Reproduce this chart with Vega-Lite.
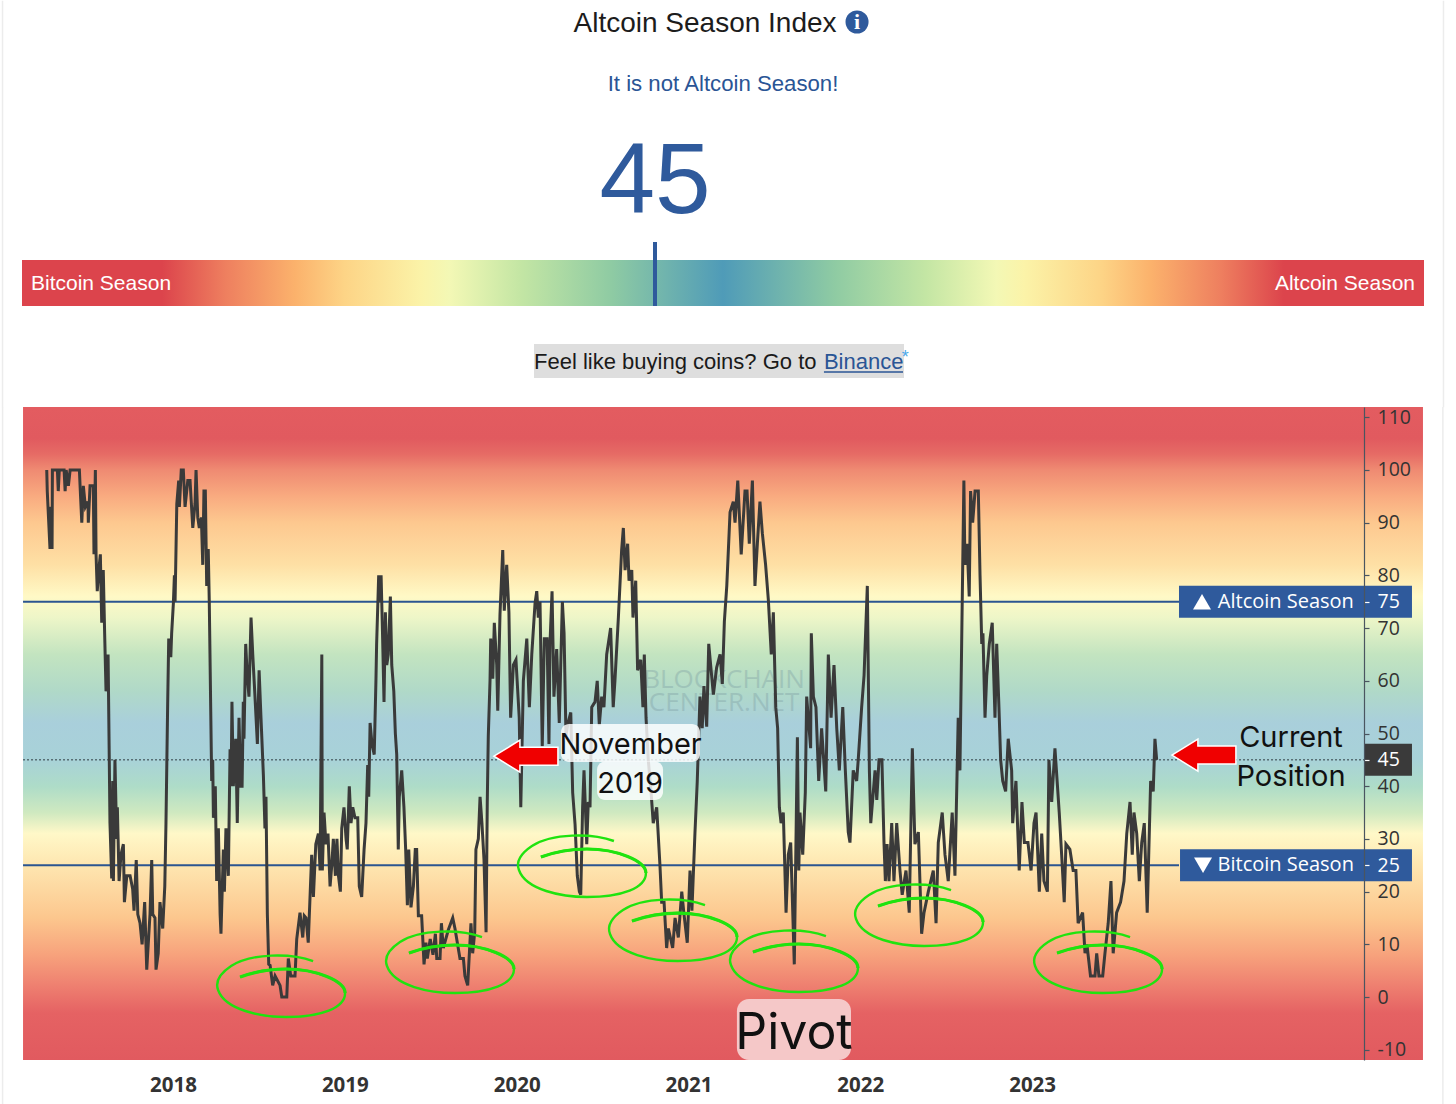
{
  "$schema": "https://vega.github.io/schema/vega-lite/v6.json",
  "padding": {"left": 1, "top": 0, "right": 0, "bottom": 0},
  "background": "white",
  "spacing": 12,
  "bounds": "flush",
  "datasets": {
    "index": [
      {"t":2017.265,"v":100},{"t":2017.268,"v":96},{"t":2017.284,"v":85},{"t":2017.290,"v":93},{"t":2017.296,"v":85},{"t":2017.298,"v":100},{"t":2017.327,"v":100},{"t":2017.332,"v":96},{"t":2017.338,"v":100},{"t":2017.366,"v":100},{"t":2017.372,"v":96},{"t":2017.378,"v":100},{"t":2017.391,"v":97},{"t":2017.401,"v":100},{"t":2017.455,"v":100},{"t":2017.459,"v":97},{"t":2017.469,"v":90},{"t":2017.478,"v":97},{"t":2017.490,"v":93},{"t":2017.505,"v":94},{"t":2017.507,"v":90},{"t":2017.517,"v":97},{"t":2017.536,"v":97},{"t":2017.540,"v":84},{"t":2017.548,"v":100},{"t":2017.552,"v":84},{"t":2017.559,"v":77},{"t":2017.568,"v":81},{"t":2017.577,"v":84},{"t":2017.585,"v":71},{"t":2017.594,"v":81},{"t":2017.602,"v":69},{"t":2017.610,"v":58},{"t":2017.622,"v":65},{"t":2017.629,"v":45},{"t":2017.633,"v":33},{"t":2017.643,"v":22.5},{"t":2017.649,"v":41},{"t":2017.653,"v":22},{"t":2017.662,"v":45},{"t":2017.672,"v":30},{"t":2017.676,"v":36},{"t":2017.686,"v":22},{"t":2017.697,"v":27},{"t":2017.711,"v":29},{"t":2017.717,"v":18},{"t":2017.731,"v":23},{"t":2017.750,"v":23},{"t":2017.765,"v":20.5},{"t":2017.773,"v":16.4},{"t":2017.786,"v":26},{"t":2017.795,"v":15.7},{"t":2017.808,"v":14},{"t":2017.820,"v":10},{"t":2017.835,"v":18},{"t":2017.847,"v":5.2},{"t":2017.866,"v":15.7},{"t":2017.876,"v":26},{"t":2017.882,"v":15.7},{"t":2017.895,"v":15},{"t":2017.901,"v":5.2},{"t":2017.914,"v":8.3},{"t":2017.924,"v":18},{"t":2017.940,"v":13},{"t":2017.952,"v":21},{"t":2017.959,"v":33},{"t":2017.969,"v":56},{"t":2017.975,"v":68},{"t":2017.987,"v":64.5},{"t":2017.992,"v":69},
      {"t":2018.002,"v":74.7},{"t":2018.008,"v":80},{"t":2018.012,"v":75},{"t":2018.022,"v":93.6},{"t":2018.033,"v":98},{"t":2018.037,"v":93},{"t":2018.048,"v":100},{"t":2018.060,"v":100},{"t":2018.070,"v":93},{"t":2018.086,"v":98},{"t":2018.099,"v":98},{"t":2018.115,"v":89},{"t":2018.128,"v":93.6},{"t":2018.134,"v":100},{"t":2018.144,"v":91},{"t":2018.153,"v":89},{"t":2018.165,"v":91},{"t":2018.173,"v":82},{"t":2018.180,"v":96},{"t":2018.188,"v":96},{"t":2018.196,"v":78},{"t":2018.205,"v":85},{"t":2018.211,"v":75},{"t":2018.225,"v":41},{"t":2018.231,"v":45},{"t":2018.235,"v":34},{"t":2018.246,"v":40},{"t":2018.254,"v":22},{"t":2018.264,"v":32},{"t":2018.274,"v":15.7},{"t":2018.279,"v":12},{"t":2018.293,"v":28},{"t":2018.299,"v":20},{"t":2018.308,"v":32},{"t":2018.322,"v":23},{"t":2018.332,"v":47},{"t":2018.338,"v":40},{"t":2018.343,"v":56},{"t":2018.351,"v":40},{"t":2018.365,"v":49},{"t":2018.374,"v":33},{"t":2018.384,"v":53},{"t":2018.394,"v":40},{"t":2018.402,"v":40},{"t":2018.409,"v":56},{"t":2018.413,"v":49},{"t":2018.423,"v":67},{"t":2018.432,"v":61},{"t":2018.442,"v":57},{"t":2018.454,"v":72},{"t":2018.464,"v":65},{"t":2018.477,"v":57},{"t":2018.491,"v":48},{"t":2018.501,"v":62},{"t":2018.512,"v":53},{"t":2018.526,"v":42},{"t":2018.535,"v":32},{"t":2018.541,"v":38},{"t":2018.549,"v":15.7},{"t":2018.557,"v":6.2},{"t":2018.565,"v":6},{"t":2018.580,"v":2.2},{"t":2018.594,"v":4},{"t":2018.623,"v":2.2},{"t":2018.633,"v":0},{"t":2018.662,"v":0},{"t":2018.671,"v":7.3},{"t":2018.685,"v":4},{"t":2018.710,"v":4},{"t":2018.720,"v":11},{"t":2018.739,"v":16},{"t":2018.755,"v":11.3},{"t":2018.764,"v":15.4},{"t":2018.774,"v":15},{"t":2018.787,"v":10.3},{"t":2018.807,"v":27},{"t":2018.817,"v":19},{"t":2018.831,"v":29},{"t":2018.846,"v":31},{"t":2018.856,"v":24},{"t":2018.866,"v":65},{"t":2018.869,"v":24},{"t":2018.879,"v":35},{"t":2018.890,"v":29},{"t":2018.902,"v":31},{"t":2018.914,"v":21},{"t":2018.924,"v":25},{"t":2018.933,"v":30},{"t":2018.945,"v":23},{"t":2018.954,"v":30},{"t":2018.963,"v":23},{"t":2018.974,"v":20},{"t":2018.982,"v":32},{"t":2018.995,"v":36},
      {"t":2019.007,"v":30},{"t":2019.014,"v":28},{"t":2019.026,"v":40},{"t":2019.036,"v":33},{"t":2019.046,"v":36},{"t":2019.059,"v":34},{"t":2019.075,"v":34},{"t":2019.084,"v":21},{"t":2019.098,"v":19},{"t":2019.112,"v":28},{"t":2019.123,"v":33},{"t":2019.133,"v":44},{"t":2019.139,"v":38},{"t":2019.147,"v":52},{"t":2019.158,"v":48},{"t":2019.171,"v":46},{"t":2019.181,"v":60},{"t":2019.185,"v":67},{"t":2019.197,"v":80},{"t":2019.206,"v":75},{"t":2019.211,"v":80},{"t":2019.220,"v":68},{"t":2019.228,"v":56},{"t":2019.236,"v":73},{"t":2019.244,"v":63},{"t":2019.253,"v":65},{"t":2019.265,"v":76},{"t":2019.273,"v":63},{"t":2019.285,"v":58},{"t":2019.294,"v":50},{"t":2019.302,"v":46},{"t":2019.311,"v":28},{"t":2019.317,"v":38},{"t":2019.331,"v":43},{"t":2019.344,"v":36},{"t":2019.354,"v":28},{"t":2019.364,"v":17.4},{"t":2019.372,"v":28},{"t":2019.385,"v":17},{"t":2019.399,"v":21},{"t":2019.410,"v":28},{"t":2019.418,"v":28},{"t":2019.428,"v":15.4},{"t":2019.447,"v":15.4},{"t":2019.461,"v":6.2},{"t":2019.472,"v":10.3},{"t":2019.480,"v":7.3},{"t":2019.497,"v":11},{"t":2019.513,"v":8},{"t":2019.527,"v":12},{"t":2019.535,"v":7.3},{"t":2019.554,"v":7.3},{"t":2019.562,"v":14},{"t":2019.573,"v":9.3},{"t":2019.602,"v":12.7},{"t":2019.628,"v":15},{"t":2019.641,"v":13},{"t":2019.670,"v":7.3},{"t":2019.690,"v":7.3},{"t":2019.699,"v":4},{"t":2019.715,"v":2.2},{"t":2019.734,"v":14},{"t":2019.744,"v":8.3},{"t":2019.756,"v":12.3},{"t":2019.763,"v":28},{"t":2019.777,"v":30},{"t":2019.787,"v":38},{"t":2019.798,"v":33},{"t":2019.810,"v":26},{"t":2019.822,"v":12.3},{"t":2019.829,"v":37},{"t":2019.835,"v":49.6},{"t":2019.845,"v":60},{"t":2019.849,"v":68},{"t":2019.861,"v":60.4},{"t":2019.870,"v":71},{"t":2019.884,"v":63},{"t":2019.890,"v":54.3},{"t":2019.903,"v":72.6},{"t":2019.919,"v":84.8},{"t":2019.928,"v":73.3},{"t":2019.942,"v":82},{"t":2019.955,"v":73},{"t":2019.965,"v":53},{"t":2019.981,"v":63},{"t":2019.996,"v":64},
      {"t":2020.015,"v":53},{"t":2020.024,"v":36},{"t":2020.039,"v":60},{"t":2020.059,"v":68},{"t":2020.074,"v":55},{"t":2020.088,"v":65},{"t":2020.107,"v":74.7},{"t":2020.117,"v":77},{"t":2020.126,"v":72},{"t":2020.136,"v":75},{"t":2020.149,"v":47.6},{"t":2020.161,"v":68},{"t":2020.177,"v":68},{"t":2020.188,"v":48},{"t":2020.194,"v":67},{"t":2020.206,"v":77},{"t":2020.217,"v":57},{"t":2020.233,"v":66},{"t":2020.248,"v":52},{"t":2020.266,"v":75},{"t":2020.276,"v":69},{"t":2020.287,"v":49.6},{"t":2020.299,"v":52},{"t":2020.315,"v":54},{"t":2020.326,"v":38.8},{"t":2020.340,"v":32.7},{"t":2020.353,"v":23},{"t":2020.365,"v":20},{"t":2020.373,"v":19.4},{"t":2020.384,"v":36},{"t":2020.392,"v":43},{"t":2020.408,"v":29},{"t":2020.417,"v":37},{"t":2020.427,"v":36},{"t":2020.437,"v":55},{"t":2020.456,"v":56},{"t":2020.469,"v":60},{"t":2020.481,"v":51.6},{"t":2020.495,"v":57},{"t":2020.508,"v":55},{"t":2020.524,"v":65},{"t":2020.547,"v":70},{"t":2020.562,"v":55},{"t":2020.572,"v":60},{"t":2020.592,"v":72},{"t":2020.611,"v":84.8},{"t":2020.621,"v":89},{"t":2020.631,"v":81},{"t":2020.646,"v":86},{"t":2020.654,"v":79},{"t":2020.670,"v":81},{"t":2020.677,"v":72},{"t":2020.693,"v":79},{"t":2020.704,"v":62},{"t":2020.722,"v":64},{"t":2020.735,"v":55},{"t":2020.743,"v":65},{"t":2020.753,"v":53},{"t":2020.766,"v":45},{"t":2020.782,"v":39},{"t":2020.795,"v":33},{"t":2020.815,"v":36},{"t":2020.834,"v":25},{"t":2020.844,"v":18},{"t":2020.858,"v":18},{"t":2020.873,"v":9.3},{"t":2020.883,"v":13},{"t":2020.908,"v":9.3},{"t":2020.922,"v":15},{"t":2020.941,"v":11.3},{"t":2020.961,"v":20},{"t":2020.974,"v":15.7},{"t":2020.993,"v":10.3},
      {"t":2021.009,"v":24},{"t":2021.020,"v":16.4},{"t":2021.038,"v":31.3},{"t":2021.051,"v":40.8},{"t":2021.067,"v":57},{"t":2021.080,"v":51},{"t":2021.090,"v":59},{"t":2021.106,"v":51.3},{"t":2021.118,"v":67},{"t":2021.129,"v":63},{"t":2021.145,"v":57.4},{"t":2021.164,"v":62.5},{"t":2021.184,"v":65},{"t":2021.197,"v":59.4},{"t":2021.209,"v":71.3},{"t":2021.223,"v":78},{"t":2021.242,"v":92},{"t":2021.261,"v":94},{"t":2021.271,"v":90},{"t":2021.287,"v":98},{"t":2021.307,"v":84},{"t":2021.329,"v":96},{"t":2021.341,"v":96},{"t":2021.354,"v":86},{"t":2021.372,"v":98},{"t":2021.387,"v":78},{"t":2021.401,"v":86},{"t":2021.416,"v":94},{"t":2021.430,"v":88},{"t":2021.449,"v":82},{"t":2021.465,"v":75.3},{"t":2021.482,"v":65},{"t":2021.494,"v":73},{"t":2021.508,"v":55},{"t":2021.519,"v":51},{"t":2021.529,"v":36},{"t":2021.539,"v":33},{"t":2021.552,"v":35},{"t":2021.568,"v":16},{"t":2021.581,"v":27},{"t":2021.595,"v":29.3},{"t":2021.616,"v":6.2},{"t":2021.634,"v":49.3},{"t":2021.642,"v":24},{"t":2021.649,"v":35},{"t":2021.665,"v":27},{"t":2021.680,"v":38.8},{"t":2021.688,"v":57},{"t":2021.711,"v":47.2},{"t":2021.715,"v":69},{"t":2021.727,"v":57},{"t":2021.742,"v":55},{"t":2021.758,"v":41},{"t":2021.775,"v":51},{"t":2021.799,"v":39},{"t":2021.814,"v":65},{"t":2021.830,"v":53},{"t":2021.847,"v":63},{"t":2021.863,"v":51},{"t":2021.878,"v":43},{"t":2021.898,"v":55},{"t":2021.913,"v":43},{"t":2021.930,"v":31.3},{"t":2021.940,"v":29.3},{"t":2021.959,"v":43},{"t":2021.979,"v":41},{"t":2021.988,"v":45},
      {"t":2022.008,"v":55},{"t":2022.022,"v":61},{"t":2022.041,"v":78},{"t":2022.053,"v":43},{"t":2022.061,"v":33},{"t":2022.086,"v":43},{"t":2022.096,"v":37.4},{"t":2022.109,"v":45},{"t":2022.126,"v":45},{"t":2022.138,"v":29.3},{"t":2022.146,"v":22},{"t":2022.156,"v":29},{"t":2022.167,"v":22},{"t":2022.183,"v":33},{"t":2022.196,"v":22},{"t":2022.212,"v":33},{"t":2022.231,"v":24},{"t":2022.244,"v":19.4},{"t":2022.266,"v":24},{"t":2022.285,"v":16},{"t":2022.303,"v":47.2},{"t":2022.318,"v":29},{"t":2022.338,"v":31.3},{"t":2022.357,"v":12},{"t":2022.371,"v":16},{"t":2022.396,"v":20},{"t":2022.425,"v":24},{"t":2022.441,"v":14},{"t":2022.454,"v":29.3},{"t":2022.477,"v":35},{"t":2022.493,"v":27},{"t":2022.512,"v":22},{"t":2022.535,"v":35},{"t":2022.551,"v":23},{"t":2022.570,"v":53},{"t":2022.580,"v":43},{"t":2022.590,"v":67},{"t":2022.603,"v":98},{"t":2022.609,"v":82},{"t":2022.622,"v":86},{"t":2022.634,"v":76},{"t":2022.642,"v":96},{"t":2022.654,"v":90},{"t":2022.668,"v":96},{"t":2022.687,"v":96},{"t":2022.697,"v":80},{"t":2022.707,"v":67},{"t":2022.714,"v":69},{"t":2022.726,"v":53},{"t":2022.736,"v":61},{"t":2022.751,"v":67},{"t":2022.768,"v":71},{"t":2022.784,"v":53},{"t":2022.794,"v":67},{"t":2022.807,"v":55},{"t":2022.817,"v":45},{"t":2022.829,"v":41},{"t":2022.846,"v":39},{"t":2022.861,"v":49},{"t":2022.881,"v":43},{"t":2022.887,"v":33},{"t":2022.906,"v":41},{"t":2022.925,"v":24},{"t":2022.941,"v":37},{"t":2022.955,"v":29.3},{"t":2022.976,"v":29.3},{"t":2022.994,"v":24},
      {"t":2023.011,"v":33},{"t":2023.023,"v":35},{"t":2023.042,"v":20},{"t":2023.056,"v":31},{"t":2023.069,"v":22},{"t":2023.089,"v":20},{"t":2023.098,"v":45},{"t":2023.114,"v":37},{"t":2023.133,"v":47.2},{"t":2023.158,"v":35},{"t":2023.172,"v":27},{"t":2023.187,"v":18},{"t":2023.197,"v":29},{"t":2023.220,"v":28},{"t":2023.239,"v":24},{"t":2023.255,"v":24},{"t":2023.268,"v":14},{"t":2023.294,"v":16},{"t":2023.308,"v":8.3},{"t":2023.319,"v":10},{"t":2023.340,"v":4},{"t":2023.366,"v":4},{"t":2023.376,"v":8.3},{"t":2023.389,"v":4},{"t":2023.411,"v":4},{"t":2023.424,"v":8.3},{"t":2023.443,"v":14},{"t":2023.459,"v":22},{"t":2023.472,"v":8.3},{"t":2023.492,"v":16},{"t":2023.515,"v":18},{"t":2023.535,"v":22},{"t":2023.551,"v":31},{"t":2023.570,"v":37},{"t":2023.583,"v":27},{"t":2023.593,"v":35},{"t":2023.609,"v":31},{"t":2023.624,"v":22},{"t":2023.638,"v":29.3},{"t":2023.653,"v":33},{"t":2023.670,"v":16},{"t":2023.682,"v":31},{"t":2023.690,"v":41},{"t":2023.705,"v":39},{"t":2023.715,"v":49},{"t":2023.725,"v":45}
    ],
    "pivots": [
      {"t":2018.629,"v":2.09},{"t":2019.612,"v":6.64},{"t":2020.380,"v":24.86},{"t":2020.910,"v":12.71},{"t":2021.614,"v":6.83},{"t":2022.342,"v":15.56},{"t":2023.384,"v":6.64}
    ],
    "arrows": [
      {"t":2020.054,"v":45.7},{"t":2024.000,"v":45.9}
    ]
  },
  "vconcat": [
    {
      "width": 1402,
      "height": 395,
      "data": {"values": [{}]},
      "encoding": {
        "x": {"type": "quantitative", "scale": {"domain": [0, 100], "nice": false, "zero": false}, "axis": null},
        "y": {"type": "quantitative", "scale": {"domain": [100, 0], "nice": false, "zero": false}, "axis": null}
      },
      "view": {"stroke": null},
      "layer": [
        {
          "mark": {"type": "rule", "stroke": "#ececec", "strokeWidth": 1.5},
          "encoding": {"x": {"datum": -1.39}, "y": {"datum": 0.2}, "y2": {"datum": 103.1}}
        },
        {
          "mark": {"type": "rule", "stroke": "#ececec", "strokeWidth": 1.5},
          "encoding": {"x": {"datum": 101.39}, "y": {"datum": 0.2}, "y2": {"datum": 103.1}}
        },
        {
          "mark": {"type": "rect", "fill": {"gradient": "linear", "x1": 0, "y1": 0, "x2": 1, "y2": 0, "stops": [
            {"offset": 0, "color": "#dc444c"}, {"offset": 0.1, "color": "#dc444c"}, {"offset": 0.145, "color": "#ee7f5f"}, {"offset": 0.195, "color": "#fbb26c"}, {"offset": 0.23, "color": "#fdd486"}, {"offset": 0.285, "color": "#fbf3a8"}, {"offset": 0.305, "color": "#f3f8b5"}, {"offset": 0.355, "color": "#c4e6a4"}, {"offset": 0.42, "color": "#8fcba3"}, {"offset": 0.5, "color": "#4f9bb8"}, {"offset": 0.58, "color": "#8fcba3"}, {"offset": 0.645, "color": "#c4e6a4"}, {"offset": 0.695, "color": "#f3f8b5"}, {"offset": 0.715, "color": "#fbf3a8"}, {"offset": 0.77, "color": "#fdd486"}, {"offset": 0.805, "color": "#fbb26c"}, {"offset": 0.855, "color": "#ee7f5f"}, {"offset": 0.9, "color": "#dc444c"}, {"offset": 1, "color": "#dc444c"}
          ]}},
          "encoding": {"x": {"datum": 0}, "x2": {"datum": 100}, "y": {"datum": 65.8}, "y2": {"datum": 77.47}}
        },
        {
          "mark": {"type": "rect", "fill": "#dedede"},
          "encoding": {"x": {"datum": 36.52}, "x2": {"datum": 62.91}, "y": {"datum": 87.1}, "y2": {"datum": 95.7}}
        },
        {
          "mark": {"type": "rule", "stroke": "#2f5a9c", "strokeWidth": 4},
          "encoding": {"x": {"datum": 45.15}, "y": {"datum": 61.27}, "y2": {"datum": 77.47}}
        },
        {
          "mark": {"type": "rule", "stroke": "#2a5595", "strokeWidth": 1.5},
          "encoding": {"x": {"datum": 57.2}, "x2": {"datum": 62.84}, "y": {"datum": 94.2}}
        },
        {
          "mark": {"type": "point", "shape": "circle", "filled": true, "fill": "#2f5a9c", "size": 531, "opacity": 1},
          "encoding": {"x": {"datum": 59.56}, "y": {"datum": 5.57}}
        },
        {
          "mark": {"type": "text", "text": "i", "font": "Liberation Serif", "fontSize": 22, "fontWeight": "bold", "color": "white", "baseline": "middle", "align": "center"},
          "encoding": {"x": {"datum": 59.56}, "y": {"datum": 5.57}}
        },
        {
          "mark": {"type": "text", "text": "Altcoin Season Index", "font": "Liberation Sans", "fontSize": 28, "color": "#1c1c1c", "baseline": "middle", "align": "center"},
          "encoding": {"x": {"datum": 48.72}, "y": {"datum": 6.2}}
        },
        {
          "mark": {"type": "text", "text": "It is not Altcoin Season!", "font": "Liberation Sans", "fontSize": 22.2, "color": "#2a5595", "baseline": "middle", "align": "center"},
          "encoding": {"x": {"datum": 50}, "y": {"datum": 21.27}}
        },
        {
          "mark": {"type": "text", "text": "45", "font": "Liberation Sans", "fontSize": 100, "color": "#2f5a9c", "baseline": "middle", "align": "center"},
          "encoding": {"x": {"datum": 45.15}, "y": {"datum": 46.3}}
        },
        {
          "mark": {"type": "text", "text": "Bitcoin Season", "font": "Liberation Sans", "fontSize": 21, "color": "white", "baseline": "middle", "align": "left"},
          "encoding": {"x": {"datum": 0.64}, "y": {"datum": 71.8}}
        },
        {
          "mark": {"type": "text", "text": "Altcoin Season", "font": "Liberation Sans", "fontSize": 21, "color": "white", "baseline": "middle", "align": "right"},
          "encoding": {"x": {"datum": 99.36}, "y": {"datum": 71.8}}
        },
        {
          "mark": {"type": "text", "text": "Feel like buying coins? Go to ", "font": "Liberation Sans", "fontSize": 22, "color": "#1a1a1a", "baseline": "middle", "align": "left"},
          "encoding": {"x": {"datum": 36.52}, "y": {"datum": 91.65}}
        },
        {
          "mark": {"type": "text", "text": "Binance", "font": "Liberation Sans", "fontSize": 22, "color": "#2a5595", "baseline": "middle", "align": "left"},
          "encoding": {"x": {"datum": 57.2}, "y": {"datum": 91.65}}
        },
        {
          "mark": {"type": "text", "text": "*", "font": "Liberation Sans", "fontSize": 18, "color": "#4aa8e8", "baseline": "middle", "align": "center"},
          "encoding": {"x": {"datum": 63.0}, "y": {"datum": 90.6}}
        }
      ]
    },
    {
      "width": 1402,
      "height": 653,
      "view": {"stroke": null},
      "encoding": {
        "x": {
          "field": "t",
          "type": "quantitative",
          "scale": {"domain": [2017.121, 2025.281], "nice": false, "zero": false},
          "axis": {"title": null, "values": [2018, 2019, 2020, 2021, 2022, 2023], "format": "d", "grid": false, "ticks": false, "domain": false, "labelFont": "Open Sans", "labelFontSize": 20.5, "labelFontWeight": 700, "labelColor": "#333333", "labelPadding": 15}
        },
        "y": {
          "field": "v",
          "type": "quantitative",
          "scale": {"domain": [-11.95, 111.95], "nice": false, "zero": false},
          "axis": {
            "title": null, "orient": "right", "offset": -60, "zindex": 1, "grid": false,
            "values": [-10, 0, 10, 20, 25, 30, 40, 45, 50, 60, 70, 75, 80, 90, 100, 110],
            "labelExpr": "'' + datum.value",
            "domainColor": "#4a5560", "domainWidth": 1.2, "tickSize": 5, "tickWidth": 1.2,
            "tickColor": {"condition": {"test": "datum.value==25||datum.value==45||datum.value==75", "value": "white"}, "value": "#4a5560"},
            "labelColor": {"condition": {"test": "datum.value==25||datum.value==45||datum.value==75", "value": "white"}, "value": "#333333"},
            "labelFont": "Open Sans", "labelFontSize": 19.5, "labelPadding": 8, "labelOverlap": false, "labelBound": false
          }
        }
      },
      "layer": [
        {
          "data": {"values": [{"t": 2017.008, "v": 111.95, "v2": -20.3}, {"t": 2025.391, "v": 111.95, "v2": -20.3}]},
          "mark": {"type": "rule", "stroke": "#ececec", "strokeWidth": 1.5},
          "encoding": {"y2": {"field": "v2"}}
        },
        {
          "data": {"values": [{"t": 2017.127, "t2": 2025.275, "v": 111.95, "v2": -11.95}]},
          "mark": {"type": "rect", "fill": {"gradient": "linear", "x1": 0, "y1": 0, "x2": 0, "y2": 1, "stops": [
            {"offset": 0, "color": "#e35c60"}, {"offset": 0.048, "color": "#e15a5f"}, {"offset": 0.072, "color": "#e66b65"}, {"offset": 0.096, "color": "#ef8a72"}, {"offset": 0.137, "color": "#f9ab80"}, {"offset": 0.177, "color": "#fdc88f"}, {"offset": 0.242, "color": "#fee0a5"}, {"offset": 0.29, "color": "#fff9c6"}, {"offset": 0.322, "color": "#eef6c8"}, {"offset": 0.379, "color": "#c3e4c0"}, {"offset": 0.435, "color": "#b0d9c8"}, {"offset": 0.484, "color": "#a9cfdb"}, {"offset": 0.54, "color": "#a8d2d8"}, {"offset": 0.581, "color": "#aedcc8"}, {"offset": 0.621, "color": "#cfe9c0"}, {"offset": 0.653, "color": "#fff8c8"}, {"offset": 0.702, "color": "#fee6b0"}, {"offset": 0.782, "color": "#fcc78e"}, {"offset": 0.839, "color": "#f7a27c"}, {"offset": 0.887, "color": "#ee7f70"}, {"offset": 0.928, "color": "#e56263"}, {"offset": 1, "color": "#e15a5f"}
          ]}},
          "encoding": {"x2": {"field": "t2"}, "y2": {"field": "v2"}}
        },
        {
          "data": {"values": [{"t": 2021.207, "v": 60.2, "label": "BLOCKCHAIN"}, {"t": 2021.207, "v": 55.8, "label": "CENTER.NET"}]},
          "mark": {"type": "text", "font": "Open Sans", "fontSize": 26, "color": "#7a9aa0", "opacity": 0.35, "baseline": "middle", "align": "center"},
          "encoding": {"text": {"field": "label"}}
        },
        {
          "data": {"values": [{"t": 2017.127, "t2": 2023.855, "v": 75}, {"t": 2017.127, "t2": 2023.855, "v": 25}]},
          "mark": {"type": "rule", "stroke": "#2b5590", "strokeWidth": 1.8},
          "encoding": {"x2": {"field": "t2"}}
        },
        {
          "data": {"values": [{"t": 2017.127, "t2": 2024.932, "v": 45}]},
          "mark": {"type": "rule", "stroke": "#2f3a40", "strokeWidth": 1, "strokeDash": [2, 2]},
          "encoding": {"x2": {"field": "t2"}}
        },
        {
          "data": {"name": "index"},
          "mark": {"type": "line", "stroke": "#3a3a3a", "strokeWidth": 3, "interpolate": "linear", "clip": true},
          "encoding": {"order": {"field": "t", "type": "quantitative"}}
        },
        {
          "data": {"name": "pivots"},
          "mark": {"type": "point", "shape": "M32,-25C10,-33,-30,-33,-50,-20C-62,-12,-66,-4,-63,4C-56,24,-20,31,5,31C40,31,64,22,64,7C64,-5,35,-17,5,-17C-15,-17,-30,-13,-41,-9", "size": 4, "filled": false, "stroke": "#1fe30f", "strokeWidth": 2.4, "opacity": 1}
        },
        {
          "data": {"name": "pivots"},
          "mark": {"type": "point", "shape": "M64,7C64,-5,35,-17,5,-17C-15,-17,-30,-13,-41,-9", "size": 4, "filled": false, "stroke": "#1fe30f", "strokeWidth": 3.2, "opacity": 1}
        },
        {
          "data": {"values": [{"t": 2023.855, "t2": 2025.211, "v": 78.04, "v2": 71.96}, {"t": 2023.861, "t2": 2025.211, "v": 28.04, "v2": 21.96}]},
          "mark": {"type": "rect", "fill": "#2f5a9c"},
          "encoding": {"x2": {"field": "t2"}, "y2": {"field": "v2"}}
        },
        {
          "data": {"values": [{"t": 2024.932, "t2": 2025.211, "v": 48.04, "v2": 41.96}]},
          "mark": {"type": "rect", "fill": "#3a3a3a"},
          "encoding": {"x2": {"field": "t2"}, "y2": {"field": "v2"}}
        },
        {
          "data": {"values": [{"t": 2024.873, "v": 75, "label": "Altcoin Season"}, {"t": 2024.873, "v": 25, "label": "Bitcoin Season"}]},
          "mark": {"type": "text", "font": "Open Sans", "fontSize": 20, "color": "white", "baseline": "middle", "align": "right"},
          "encoding": {"text": {"field": "label"}}
        },
        {
          "data": {"values": [{"t": 2023.989, "v": 75}]},
          "mark": {"type": "point", "shape": "triangle-up", "size": 324, "filled": true, "fill": "white", "opacity": 1}
        },
        {
          "data": {"values": [{"t": 2023.995, "v": 25}]},
          "mark": {"type": "point", "shape": "triangle-down", "size": 324, "filled": true, "fill": "white", "opacity": 1}
        },
        {
          "data": {"values": [
            {"t": 2020.258, "t2": 2021.067, "v": 51.8, "v2": 44.6},
            {"t": 2020.468, "t2": 2020.852, "v": 44.7, "v2": 37.4}
          ]},
          "mark": {"type": "rect", "fill": "white", "opacity": 0.82, "cornerRadius": 8},
          "encoding": {"x2": {"field": "t2"}, "y2": {"field": "v2"}}
        },
        {
          "data": {"values": [{"t": 2021.282, "t2": 2021.946, "v": -0.38, "v2": -11.95}]},
          "mark": {"type": "rect", "fill": "#f5c8c8", "cornerRadius": 12},
          "encoding": {"x2": {"field": "t2"}, "y2": {"field": "v2"}}
        },
        {
          "data": {"name": "arrows"},
          "mark": {"type": "point", "shape": "M-32,0L-6,-16L-6,-9L32,-9L32,9L-6,9L-6,16Z", "size": 4, "filled": true, "fill": "#f00000", "stroke": "white", "strokeWidth": 1.5, "opacity": 1}
        },
        {
          "data": {"values": [
            {"t": 2020.663, "v": 47.8, "label": "November"},
            {"t": 2020.66, "v": 40.4, "label": "2019"},
            {"t": 2024.507, "v": 49.1, "label": "Current"},
            {"t": 2024.507, "v": 41.8, "label": "Position"}
          ]},
          "mark": {"type": "text", "font": "Inter", "fontSize": 29, "color": "#111111", "baseline": "middle", "align": "center"},
          "encoding": {"text": {"field": "label"}}
        },
        {
          "data": {"values": [{"t": 2021.614, "v": -6.95, "label": "Pivot"}]},
          "mark": {"type": "text", "font": "Inter", "fontSize": 50, "color": "#111111", "baseline": "middle", "align": "center"},
          "encoding": {"text": {"field": "label"}}
        }
      ]
    }
  ]
}
